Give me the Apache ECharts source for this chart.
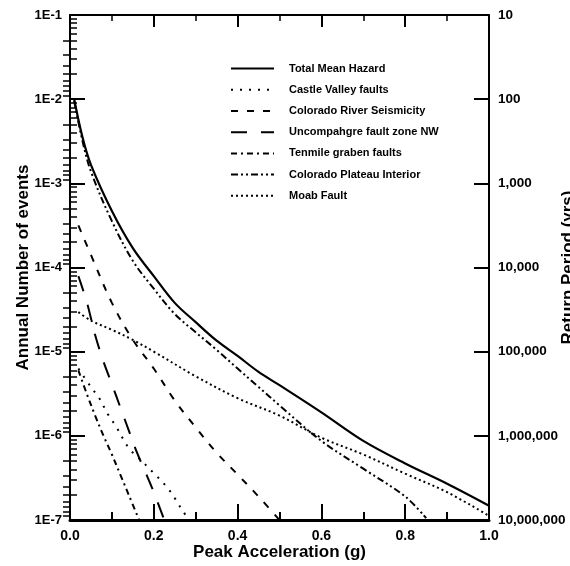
<!DOCTYPE html>
<html>
<head>
<meta charset="utf-8">
<script src="https://cdn.jsdelivr.net/npm/echarts@6/dist/echarts.min.js"></script>
<style>
  html, body { margin: 0; padding: 0; background: #fff; }
  #chart { width: 570px; height: 566px; }
</style>
</head>
<body>
<div id="chart"></div>
<script>
// ---- Data (annual number of events vs. peak acceleration, g) ----
const seriesNames = [
  'Total Mean Hazard',
  'Castle Valley faults',
  'Colorado River Seismicity',
  'Uncompahgre fault zone NW',
  'Tenmile graben faults',
  'Colorado Plateau Interior',
  'Moab Fault'
];

const totalAccel = [0.01, 0.03, 0.05, 0.10, 0.15, 0.20, 0.25, 0.30, 0.35, 0.40, 0.45, 0.50, 0.60, 0.70, 0.80, 0.90, 1.00];
const totalRate  = [1.0e-2, 3.5e-3, 1.66e-3, 4.7e-4, 1.7e-4, 7.9e-5, 3.8e-5, 2.24e-5, 1.35e-5, 8.9e-6, 5.75e-6, 4.0e-6, 1.9e-6, 8.7e-7, 4.7e-7, 2.7e-7, 1.48e-7];

const castleAccel = [0.02, 0.05, 0.07, 0.09, 0.11, 0.14, 0.17, 0.20, 0.23, 0.25, 0.27, 0.285];
const castleRate  = [6.3e-6, 3.8e-6, 2.8e-6, 1.82e-6, 1.29e-6, 7.2e-7, 5.1e-7, 3.6e-7, 2.5e-7, 1.82e-7, 1.26e-7, 1.0e-7];

const riverAccel = [0.02, 0.05, 0.10, 0.15, 0.20, 0.25, 0.30, 0.35, 0.40, 0.45, 0.50];
const riverRate  = [3.16e-4, 1.41e-4, 3.8e-5, 1.38e-5, 6.3e-6, 2.63e-6, 1.26e-6, 6.3e-7, 3.47e-7, 1.9e-7, 1.0e-7];

const uncompAccel = [0.02, 0.04, 0.06, 0.08, 0.10, 0.12, 0.14, 0.16, 0.18, 0.20, 0.225];
const uncompRate  = [7.9e-5, 3.9e-5, 1.58e-5, 7.6e-6, 4.1e-6, 2.19e-6, 1.17e-6, 6.3e-7, 3.7e-7, 2.14e-7, 1.0e-7];

const tenmileAccel = [0.02, 0.04, 0.06, 0.08, 0.10, 0.12, 0.14, 0.165];
const tenmileRate  = [6.0e-6, 3.16e-6, 1.74e-6, 1.0e-6, 6.0e-7, 3.47e-7, 2.0e-7, 1.0e-7];

const plateauAccel = [0.01, 0.03, 0.05, 0.10, 0.15, 0.20, 0.25, 0.30, 0.35, 0.40, 0.45, 0.50, 0.60, 0.70, 0.80, 0.85];
const plateauRate  = [9.5e-3, 3.16e-3, 1.38e-3, 3.55e-4, 1.2e-4, 5.6e-5, 2.8e-5, 1.7e-5, 1.05e-5, 6.3e-6, 3.8e-6, 2.3e-6, 8.7e-7, 4.07e-7, 1.9e-7, 1.05e-7];

const moabAccel = [0.02, 0.05, 0.10, 0.15, 0.20, 0.30, 0.40, 0.50, 0.60, 0.70, 0.80, 0.90, 1.00];
const moabRate  = [2.95e-5, 2.34e-5, 1.82e-5, 1.38e-5, 1.0e-5, 5.1e-6, 2.8e-6, 1.74e-6, 9.5e-7, 6.0e-7, 3.55e-7, 2.14e-7, 1.12e-7];

// Axis tick definitions
const xTickLabels = ['0.0', '0.2', '0.4', '0.6', '0.8', '1.0'];
const yDecadeLabels = ['1E-7', '1E-6', '1E-5', '1E-4', '1E-3', '1E-2', '1E-1'];
const returnPeriodLabels = ['10,000,000', '1,000,000', '100,000', '10,000', '1,000', '100', '10'];
const minorMantissas = [2, 3, 4, 5, 6, 7, 8, 9];
const decadeExponents = [-7, -6, -5, -4, -3, -2];       // rate decades (left)
const periodExponents = [1, 2, 3, 4, 5, 6];              // return-period decades (right)

// ---- Build ----
function zip(xs, ys) { return xs.map((x, i) => [x, ys[i]]); }

const leftMinor = [];
decadeExponents.forEach(k => minorMantissas.forEach(m => leftMinor.push(k + Math.log10(m))));
const rightMinor = [];
periodExponents.forEach(k => minorMantissas.forEach(m => rightMinor.push(-(k + Math.log10(m)))));

const FONT = '"Liberation Sans", Arial, Helvetica, sans-serif';
const BLACK = '#000';

const styles = [
  { type: 'solid', width: 2.2 },
  { type: [2, 7], width: 2 },
  { type: [7, 9], width: 2 },
  { type: [16, 14], width: 2 },
  { type: [6, 4, 2, 4], width: 2 },
  { type: [7, 3, 2, 3, 2, 3], width: 2 },
  { type: [2, 3], width: 2 }
];
const datasets = [
  zip(totalAccel, totalRate),
  zip(castleAccel, castleRate),
  zip(riverAccel, riverRate),
  zip(uncompAccel, uncompRate),
  zip(tenmileAccel, tenmileRate),
  zip(plateauAccel, plateauRate),
  zip(moabAccel, moabRate)
];

const series = seriesNames.map((name, i) => ({
  name: name,
  type: 'line',
  xAxisIndex: 0,
  yAxisIndex: 0,
  data: datasets[i],
  symbol: 'none',
  smooth: 0.35,
  lineStyle: { color: BLACK, width: styles[i].width, type: styles[i].type },
  itemStyle: { color: BLACK },
  emphasis: { disabled: true },
  z: 3
}));

function rateLabel(v) {
  const idx = Math.round(Math.log10(v)) + 7;
  return yDecadeLabels[idx] !== undefined ? yDecadeLabels[idx] : '';
}
function periodLabel(v) {
  const idx = Math.round(Math.log10(v)) + 7;
  return returnPeriodLabels[idx] !== undefined ? returnPeriodLabels[idx] : '';
}

const chart = echarts.init(document.getElementById('chart'), null, { renderer: 'canvas' });
chart.setOption({
  backgroundColor: '#fff',
  animation: false,
  textStyle: { fontFamily: FONT, color: BLACK },
  grid: { left: 70, right: 81, top: 15, bottom: 46, containLabel: false, outerBoundsMode: 'none' },
  legend: {
    orient: 'vertical',
    left: 225,
    top: 58,
    itemWidth: 43,
    itemHeight: 14,
    itemGap: 10,
    selectedMode: false,
    data: seriesNames,
    itemStyle: { opacity: 0 },
    textStyle: { fontFamily: FONT, fontSize: 11, fontWeight: 'bold', color: BLACK, padding: [0, 0, 0, 10] }
  },
  xAxis: [
    {
      type: 'value', position: 'bottom', min: 0, max: 1, interval: 0.2,
      name: 'Peak Acceleration (g)', nameLocation: 'middle', nameGap: 24, nameMoveOverlap: false,
      nameTextStyle: { fontFamily: FONT, fontSize: 17, fontWeight: 'bold', color: BLACK },
      axisLine: { show: true, onZero: false, lineStyle: { color: BLACK, width: 3 } },
      axisTick: { show: true, inside: true, length: 16, lineStyle: { color: BLACK, width: 2 } },
      minorTick: { show: true, splitNumber: 2, length: 8, lineStyle: { color: BLACK, width: 2 } },
      axisLabel: { fontFamily: FONT, fontSize: 14, fontWeight: 'bold', color: BLACK, margin: 9,
        formatter: v => xTickLabels[Math.round(v / 0.2)] },
      splitLine: { show: false }
    },
    {
      type: 'value', position: 'top', min: 0, max: 1, interval: 0.2,
      axisLine: { show: true, onZero: false, lineStyle: { color: BLACK, width: 2 } },
      axisTick: { show: true, inside: true, length: 12, lineStyle: { color: BLACK, width: 2 } },
      minorTick: { show: true, splitNumber: 2, length: 6, lineStyle: { color: BLACK, width: 1.5 } },
      axisLabel: { show: false },
      splitLine: { show: false }
    }
  ],
  yAxis: [
    {
      type: 'log', logBase: 10, position: 'left', min: 1e-7, max: 1e-1, splitNumber: 6,
      name: 'Annual Number of events', nameLocation: 'middle', nameGap: 38, nameRotate: 90, nameMoveOverlap: false,
      nameTextStyle: { fontFamily: FONT, fontSize: 17, fontWeight: 'bold', color: BLACK },
      axisLine: { show: true, onZero: false, lineStyle: { color: BLACK, width: 2 } },
      axisTick: { show: true, inside: true, length: 15, lineStyle: { color: BLACK, width: 2 } },
      axisLabel: { fontFamily: FONT, fontSize: 13, fontWeight: 'bold', color: BLACK, margin: 8, formatter: rateLabel },
      splitLine: { show: false }
    },
    {
      type: 'log', logBase: 10, position: 'right', min: 1e-7, max: 1e-1, splitNumber: 6,
      name: 'Return Period (yrs)', nameLocation: 'middle', nameGap: 71, nameRotate: 90, nameMoveOverlap: false,
      nameTextStyle: { fontFamily: FONT, fontSize: 17, fontWeight: 'bold', color: BLACK },
      axisLine: { show: true, onZero: false, lineStyle: { color: BLACK, width: 2 } },
      axisTick: { show: true, inside: true, length: 15, lineStyle: { color: BLACK, width: 2 } },
      axisLabel: { fontFamily: FONT, fontSize: 13.5, fontWeight: 'bold', color: BLACK, margin: 9, formatter: periodLabel },
      splitLine: { show: false }
    },
    {
      type: 'value', position: 'left', offset: 0, min: -7, max: -1,
      axisLine: { show: false },
      axisTick: { show: true, inside: true, length: 7, customValues: leftMinor, lineStyle: { color: BLACK, width: 1.5 } },
      axisLabel: { show: false },
      splitLine: { show: false }
    },
    {
      type: 'value', position: 'right', offset: 0, min: -7, max: -1,
      axisLine: { show: false },
      axisTick: { show: true, inside: true, length: 7, customValues: rightMinor, lineStyle: { color: BLACK, width: 1.5 } },
      axisLabel: { show: false },
      splitLine: { show: false }
    }
  ],
  series: series
});
</script>
</body>
</html>
